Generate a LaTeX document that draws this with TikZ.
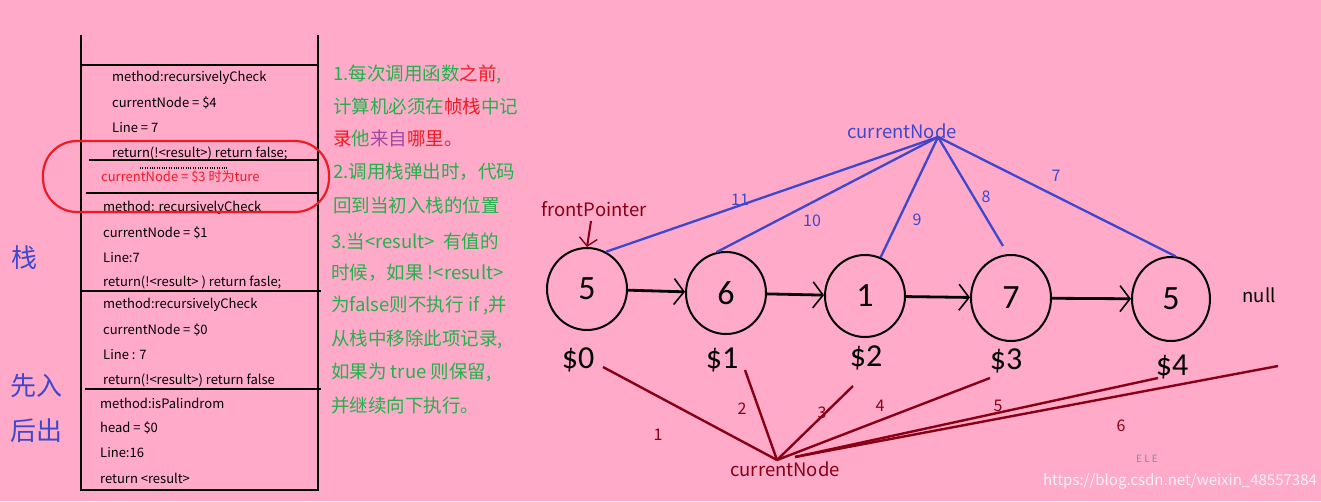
\documentclass[tikz,border=0pt]{standalone}
\usepackage{fontspec}
\setmainfont{Noto Sans CJK SC}
\newfontfamily\numfont{Carlito}
\usetikzlibrary{arrows.meta, shapes.geometric}
\definecolor{bgpink}{RGB}{255,170,201}
\definecolor{noteg}{RGB}{34,177,76}
\definecolor{noter}{RGB}{237,28,36}
\definecolor{notep}{RGB}{163,73,164}
\definecolor{ptrblue}{RGB}{63,72,204}
\definecolor{ptrred}{RGB}{136,0,21}
\tikzset{
  stackline/.style={line width=2.6pt},
  frametext/.style={anchor=west, inner sep=0pt, font=\fontsize{13}{15}\selectfont},
  notetext/.style={anchor=west, inner sep=0pt, text=noteg, font=\fontsize{18.5}{20}\selectfont},
  sidetext/.style={text=ptrblue, inner sep=0pt, font=\fontsize{26}{28}\selectfont},
  listnode/.style={draw, line width=2pt, ellipse, minimum width=80pt, minimum height=82pt, inner sep=0pt, font=\numfont\fontsize{34}{36}\selectfont},
  nextarrow/.style={line width=2.8pt, -{Straight Barb[length=10pt, width=26pt, line width=1.6pt]}},
  blueline/.style={ptrblue, line width=2.3pt},
  redline/.style={ptrred, line width=2.4pt},
  addr/.style={inner sep=0pt, font=\numfont\fontsize{32}{34}\selectfont},
  steplabel/.style={inner sep=0pt, font=\fontsize{16}{18}\selectfont},
  ptrlabel/.style={inner sep=0pt, font=\fontsize{18.5}{20}\selectfont},
}
\begin{document}
\begin{tikzpicture}[x=1pt, y=-1pt]
    \fill[bgpink] (0,0) rectangle (1321,501);
    \useasboundingbox (0,0) rectangle (1321,501);
    % stack frame
    \draw[stackline] (81,35) -- (81,490) -- (318,490) -- (318,35);
    \draw[stackline] (81,65) -- (318,65);
    \draw[stackline] (89,160) -- (318,160);
    \draw[stackline] (86,193) -- (318,193);
    \draw[stackline] (81,291) -- (321,291);
    \draw[stackline] (85,389) -- (321,389);
    \draw[line width=2.5pt, dash pattern=on 0.8pt off 1.6pt] (140,168) -- (228,168);
    \node[frametext] (f1) at (112,78) {method:recursivelyCheck};
    \node[frametext] (f2) at (112,103) {currentNode = \$4};
    \node[frametext] (f3) at (112,128) {Line = 7};
    \node[frametext] (f4) at (112,153) {return(!<result>) return false;};
    \node[frametext, text=noter] (f5) at (101,177) {currentNode = \$3 时为ture};
    \node[frametext] (f6) at (103,208) {method: recursivelyCheck};
    \node[frametext] (f7) at (103,233) {currentNode = \$1};
    \node[frametext] (f8) at (103,258) {Line:7};
    \node[frametext] (f9) at (103,282) {return(!<result> ) return fasle;};
    \node[frametext] (f10) at (103,305) {method:recursivelyCheck};
    \node[frametext] (f11) at (103,330) {currentNode = \$0};
    \node[frametext] (f12) at (103,355) {Line : 7};
    \node[frametext] (f13) at (103,380) {return(!<result>) return false};
    \node[frametext] (f14) at (100,403) {method:isPalindrom};
    \node[frametext] (f15) at (100,428) {head = \$0};
    \node[frametext] (f16) at (100,453) {Line:16};
    \node[frametext] (f17) at (100,478) {return <result>};
    \draw[noter, line width=2.2pt, rounded corners=34pt] (43,141) rectangle (329,212);
    % side labels
    \node[sidetext] (zhan) at (25,258) {栈};
    \node[sidetext] (xianru) at (36,386) {先入};
    \node[sidetext] (houchu) at (36,431) {后出};
    % notes
    \node[notetext] (t1) at (333,74) {1.每次调用函数\textcolor{noter}{之前},};
    \node[notetext] (t2) at (333,106) {计算机必须在\textcolor{noter}{帧栈}中记};
    \node[notetext] (t3) at (333,138) {\textcolor{noter}{录}他\textcolor{notep}{来自}\textcolor{noter}{哪里。}};
    \node[notetext] (t4) at (333,172) {2.调用栈弹出时，代码};
    \node[notetext] (t5) at (333,205) {回到当初入栈的位置};
    \node[notetext] (t6) at (331,241) {3.当<result>\ \ 有值的};
    \node[notetext] (t7) at (331,273) {时候，如果 !<result>};
    \node[notetext] (t8) at (331,305) {为false则不执行 if ,并};
    \node[notetext] (t9) at (331,339) {从栈中移除此项记录,};
    \node[notetext] (t10) at (331,372) {如果为 true 则保留,};
    \node[notetext] (t11) at (331,405) {并继续向下执行。};
    % linked list
    \node[listnode] (n0) at (587,289) {5};
    \node[listnode] (n1) at (726,293) {6};
    \node[listnode] (n2) at (865,296) {1};
    \node[listnode, minimum height=86pt] (n3) at (1011,298) {7};
    \node[listnode, minimum width=78pt, minimum height=84pt] (n4) at (1171,299) {5};
    \node[ptrlabel] (null) at (1259,295) {null};
    \draw[nextarrow] (n0) -- (n1);
    \draw[nextarrow] (n1) -- (n2);
    \draw[nextarrow] (n2) -- (n3);
    \draw[nextarrow] (n3) -- (n4);
    % front pointer
    \node[ptrlabel, text=ptrred] (front) at (594,209) {frontPointer};
    \draw[ptrred, line width=2pt, -{Straight Barb[length=8pt, width=18pt, line width=1.4pt]}] (591,221) -- (n0.north);
    % current node going back
    \node[ptrlabel, text=ptrblue] (topcur) at (902,131) {currentNode};
    \coordinate (topapex) at (938,137);
    \coordinate (above3) at (1003,246);
    \draw[blueline] (topapex) -- (n0.63);
    \draw[blueline] (topapex) -- (n1.103);
    \draw[blueline] (topapex) -- (n2.68);
    \draw[blueline] (topapex) -- (above3);
    \draw[blueline] (topapex) -- (n4.84);
    \node[steplabel, text=ptrblue] (b11) at (740,200) {11};
    \node[steplabel, text=ptrblue] (b10) at (812,221) {10};
    \node[steplabel, text=ptrblue] (b9) at (917,220) {9};
    \node[steplabel, text=ptrblue] (b8) at (986,197) {8};
    \node[steplabel, text=ptrblue] (b7) at (1056,176) {7};
    % addresses
    \node[addr] (d0) at (578,360) {\$0};
    \node[addr] (d1) at (722,360) {\$1};
    \node[addr] (d2) at (866,358) {\$2};
    \node[addr] (d3) at (1006,361) {\$3};
    \node[addr] (d4) at (1172,367) {\$4};
    % current node going forward
    \node[ptrlabel, text=ptrred] (botcur) at (785,469) {currentNode};
    \coordinate (botapex) at (777,460);
    \coordinate (botapex2) at (795,457);
    \coordinate (e0) at (603,367);
    \coordinate (e1) at (745,370);
    \coordinate (e2) at (853,386);
    \coordinate (e3) at (990,378);
    \coordinate (e4) at (1158,378);
    \coordinate (e5) at (1278,366);
    \draw[redline] (botapex) -- (e0);
    \draw[redline] (botapex) -- (e1);
    \draw[redline] (botapex) -- (e2);
    \draw[redline] (botapex) -- (e3);
    \draw[redline] (botapex2) -- (e4);
    \draw[redline] (botapex2) -- (e5);
    \node[steplabel, text=ptrred] (r1) at (658,435) {1};
    \node[steplabel, text=ptrred] (r2) at (742,409) {2};
    \node[steplabel, text=ptrred] (r3) at (822,413) {3};
    \node[steplabel, text=ptrred] (r4) at (880,406) {4};
    \node[steplabel, text=ptrred] (r5) at (998,406) {5};
    \node[steplabel, text=ptrred] (r6) at (1121,426) {6};
    % watermark
    \node[inner sep=0pt, text=black!45, font=\fontsize{10}{12}\selectfont] (ele) at (1147,459) {E L E};
    \node[inner sep=0pt, text=white!85!bgpink, font=\fontsize{15}{17}\selectfont] (mark) at (1180,481) {https://blog.csdn.net/weixin\_48557384};
\end{tikzpicture}
\end{document}
